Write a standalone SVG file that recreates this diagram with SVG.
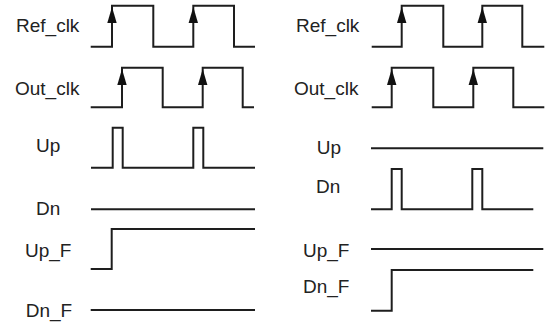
<svg xmlns="http://www.w3.org/2000/svg" xmlns:xlink="http://www.w3.org/1999/xlink" width="549" height="325" viewBox="0 0 549 325">
<style>
.w{fill:none;stroke:#1e1e1e;stroke-width:2;stroke-linejoin:miter}
.t{font-family:"Liberation Sans",Arial,sans-serif;font-size:19px;fill:#222}
.a{fill:#111}
</style>
<defs>
<path id="ah" d="M0,0 L-4.7,16 L4.7,16 Z"/>
</defs>
<rect width="549" height="325" fill="#fff"/>
<g id="left">
<g id="l-ref">
<text class="t" x="16" y="32">Ref_clk</text>
<path class="w" d="M90.7,46.7 H112 V5.7 H153.3 V46.7 H193.3 V5.7 H234 V46.7 H255"/>
<use class="a" xlink:href="#ah" x="112" y="7"/>
<use class="a" xlink:href="#ah" x="193.3" y="7"/>
</g>
<g id="l-out">
<text class="t" x="15" y="95">Out_clk</text>
<path class="w" d="M90.7,107.3 H122 V67.7 H162.7 V107.3 H202.7 V67.7 H242.7 V107.3 H254"/>
<use class="a" xlink:href="#ah" x="122" y="69"/>
<use class="a" xlink:href="#ah" x="202.7" y="69"/>
</g>
<g id="l-up">
<text class="t" x="36" y="152">Up</text>
<path class="w" d="M91,167.7 H112.7 V127.7 H122.7 V167.7 H193.3 V127.7 H203.3 V167.7 H255"/>
</g>
<g id="l-dn">
<text class="t" x="36" y="215">Dn</text>
<path class="w" d="M91,209.3 H255"/>
</g>
<g id="l-upf">
<text class="t" x="25" y="256.7">Up_F</text>
<path class="w" d="M90.7,269 H111.7 V229 H255"/>
</g>
<g id="l-dnf">
<text class="t" x="25.7" y="317">Dn_F</text>
<path class="w" d="M90.7,310 H255"/>
</g>
</g>
<g id="right">
<g id="r-ref">
<text class="t" x="296" y="32">Ref_clk</text>
<path class="w" d="M371.7,46.7 H401.7 V5.7 H443.3 V46.7 H482.3 V5.7 H522.3 V46.7 H544.3"/>
<use class="a" xlink:href="#ah" x="401.7" y="7"/>
<use class="a" xlink:href="#ah" x="482.3" y="7"/>
</g>
<g id="r-out">
<text class="t" x="294" y="94.5">Out_clk</text>
<path class="w" d="M371.7,107.3 H391.7 V67.7 H433.3 V107.3 H473.3 V67.7 H513.3 V107.3 H544.3"/>
<use class="a" xlink:href="#ah" x="391.7" y="69"/>
<use class="a" xlink:href="#ah" x="473.3" y="69"/>
</g>
<g id="r-up">
<text class="t" x="316.7" y="154">Up</text>
<path class="w" d="M371,148.3 H543.3"/>
</g>
<g id="r-dn">
<text class="t" x="316" y="193.3">Dn</text>
<path class="w" d="M371,209.3 H391.7 V169 H401.7 V209.3 H472.3 V169 H482.3 V209.3 H533.3"/>
</g>
<g id="r-upf">
<text class="t" x="303" y="256.7">Up_F</text>
<path class="w" d="M371,249 H543.3"/>
</g>
<g id="r-dnf">
<text class="t" x="303" y="293.3">Dn_F</text>
<path class="w" d="M371,310.7 H391.7 V270 H533.3"/>
</g>
</g>
</svg>
